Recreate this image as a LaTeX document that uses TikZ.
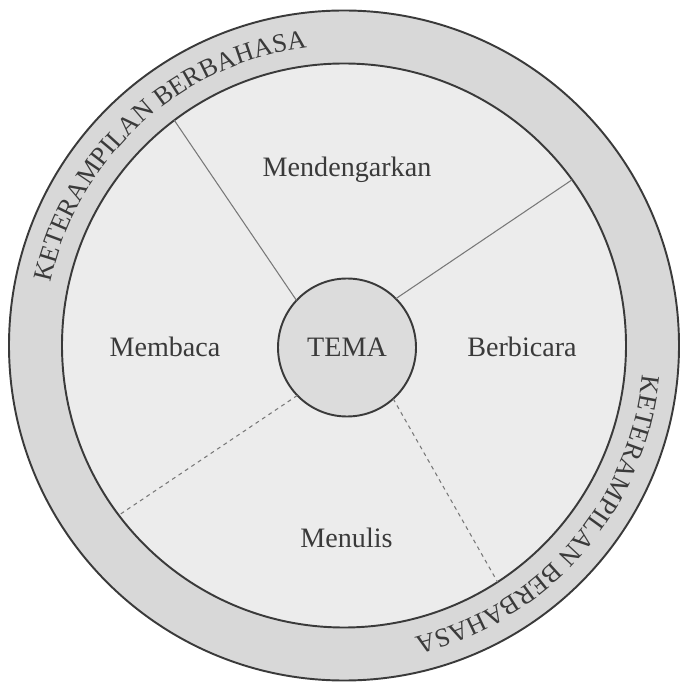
\documentclass[tikz,border=0pt]{standalone}
\usepackage{fontspec}
\setmainfont{Liberation Serif}
\RequirePackage{xcolor}
\definecolor{ringgray}{RGB}{216,216,216}
\definecolor{fieldgray}{RGB}{236,236,236}
\definecolor{temagray}{RGB}{220,220,220}
\definecolor{inkgray}{RGB}{58,58,58}
\definecolor{sepgray}{RGB}{120,120,120}
\usetikzlibrary{calc}
\usetikzlibrary{decorations.text}

\tikzset{
  disc/.style={circle, draw=inkgray, line width=1.1pt, inner sep=0, outer sep=0},
  sepline/.style={draw=sepgray, line width=0.6pt},
  seplinedash/.style={sepline, dash pattern=on 2.2pt off 2.2pt},
}

\begin{document}
\begin{tikzpicture}[font=\fontsize{16}{19}\selectfont, text=inkgray]
  \useasboundingbox (-6.88,-6.81) rectangle (6.74,6.91);

  \node [disc, fill=ringgray, minimum size=13.4cm] (ring) at (0,0) {};
  \node [disc, fill=fieldgray, minimum size=11.28cm] (field) at (0,0) {};
  \node [disc, fill=temagray, minimum size=2.76cm] (tema) at (0.06,-0.04) {TEMA};

  % keempat sekat
  \draw [sepline] (tema.137) -- (field.127.4);
  \draw [sepline] (tema.45) -- (field.36);
  \draw [seplinedash] (tema.-48.7) -- (field.-57.2);
  \draw [seplinedash] (tema.224.5) -- (field.217.9);

  \node [anchor=base] (dengar) at (0.06,3.37) {Mendengarkan};
  \node [anchor=base] (baca) at (-3.58,-0.23) {Membaca};
  \node [anchor=base] (bicara) at (3.56,-0.23) {Berbicara};
  \node [anchor=base] (tulis) at (0.05,-4.03) {Menulis};

  % tulisan pada cincin
  \path [decorate, decoration={text along path, text align=center,
      text={|\color{inkgray}\fontsize{15}{18}\selectfont|KETERAMPILAN BERBAHASA}}]
    (180:6) arc[start angle=180, end angle=85, radius=6];
  \path [decorate, decoration={text along path, text align=center,
      text={|\color{inkgray}\fontsize{15}{18}\selectfont|KETERAMPILAN BERBAHASA}}]
    (6.5:6) arc[start angle=6.5, end angle=-88.5, radius=6];
\end{tikzpicture}
\end{document}
